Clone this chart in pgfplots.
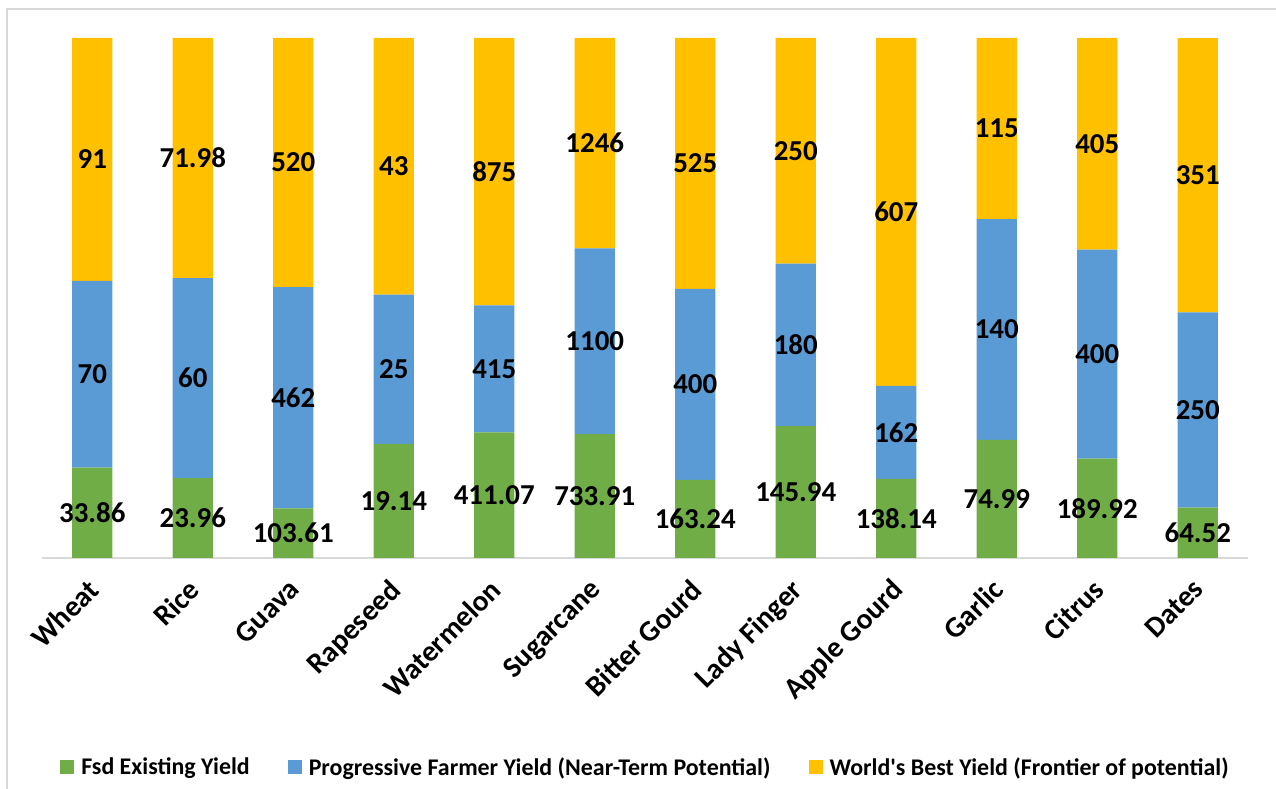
\documentclass[border=0pt]{standalone}
\usepackage{pgfplots}
\usepackage{pgfplotstable}
\pgfplotsset{compat=1.18}
\usepackage{fontspec}
\setmainfont{Carlito}

\definecolor{cGreen}{HTML}{70AD47}
\definecolor{cBlue}{HTML}{5B9BD5}
\definecolor{cGold}{HTML}{FFC000}
\definecolor{cFrame}{HTML}{D9D9D9}

% yields per crop: g = Fsd existing, b = progressive farmer, w = world's best
\pgfplotstableread{
x g b w
0 33.86 70 91
1 23.96 60 71.98
2 103.61 462 520
3 19.14 25 43
4 411.07 415 875
5 733.91 1100 1246
6 163.24 400 525
7 145.94 180 250
8 138.14 162 607
9 74.99 140 115
10 189.92 400 405
11 64.52 250 351
}\yields

% shares of each crop's total, so every bar stacks to 100
\pgfplotstablecreatecol[create col/expr={\thisrow{g}+\thisrow{b}+\thisrow{w}}]{tot}\yields
\pgfplotstablecreatecol[create col/expr={100*\thisrow{g}/\thisrow{tot}}]{gp}\yields
\pgfplotstablecreatecol[create col/expr={100*\thisrow{b}/\thisrow{tot}}]{bp}\yields
\pgfplotstablecreatecol[create col/expr={100*\thisrow{w}/\thisrow{tot}}]{wp}\yields
% middle of each segment, where its value label sits
\pgfplotstablecreatecol[create col/expr={\thisrow{gp}/2}]{gm}\yields
\pgfplotstablecreatecol[create col/expr={\thisrow{gp}+\thisrow{bp}/2}]{bm}\yields
\pgfplotstablecreatecol[create col/expr={\thisrow{gp}+\thisrow{bp}+\thisrow{wp}/2}]{wm}\yields

\pgfplotsset{
  frame geometry/.style={
    scale only axis, width=1206bp, height=520bp,
    at={(42bp,231bp)}, anchor=south west,
    xmin=-0.5, xmax=11.5, ymin=0, ymax=100,
  },
}

\begin{document}
\begin{tikzpicture}
\useasboundingbox (0,0) rectangle (1276bp,789bp);
\draw[cFrame, line width=2bp] (7bp,0) -- (7bp,780bp) -- (1276bp,780bp);

\begin{axis}[
  frame geometry,
  ybar stacked,
  bar width=0.4,
  axis x line*=bottom,
  axis y line=none,
  x axis line style={draw=cFrame, line width=1.5bp, -},
  major tick length=0pt,
  xtick={0,...,11},
  xticklabels={Wheat,Rice,Guava,Rapeseed,Watermelon,Sugarcane,Bitter Gourd,Lady Finger,Apple Gourd,Garlic,Citrus,Dates},
  xticklabel style={font=\fontsize{29.5}{32}\selectfont\bfseries, anchor=north east, inner sep=0pt, xshift=-6bp, yshift=-19bp, rotate=45},
  ytick=\empty,
  legend columns=3,
  legend style={draw=none, at={(0.5004,-0.402)}, anchor=center,
    font=\fontsize{24}{27}\selectfont\bfseries,
    /tikz/every odd column/.append style={column sep=5bp},
    /tikz/every even column/.append style={column sep=36bp}},
  legend image code/.code={\fill[#1] (0bp,-7bp) rectangle (14bp,7bp);},
]
\addplot[fill=cGreen, draw=none] table[x=x, y=gp] {\yields};
\addplot[fill=cBlue, draw=none] table[x=x, y=bp] {\yields};
\addplot[fill=cGold, draw=none] table[x=x, y=wp] {\yields};
\legend{Fsd Existing Yield, Progressive Farmer Yield (Near-Term Potential), World\textquotesingle s Best Yield (Frontier of potential)}
\end{axis}

% value labels, centred in their segments
\begin{axis}[
  frame geometry,
  hide axis, clip=false,
  nodes near coords,
  point meta=explicit symbolic,
  every node near coord/.append style={anchor=center, inner sep=0pt,
    font=\fontsize{29}{31}\selectfont\bfseries},
]
\addplot[draw=none, mark=none, nodes near coords] table[x=x, y=gm, meta=g] {\yields};
\addplot[draw=none, mark=none, nodes near coords] table[x=x, y=bm, meta=b] {\yields};
\addplot[draw=none, mark=none, nodes near coords] table[x=x, y=wm, meta=w] {\yields};
\end{axis}
\end{tikzpicture}
\end{document}
